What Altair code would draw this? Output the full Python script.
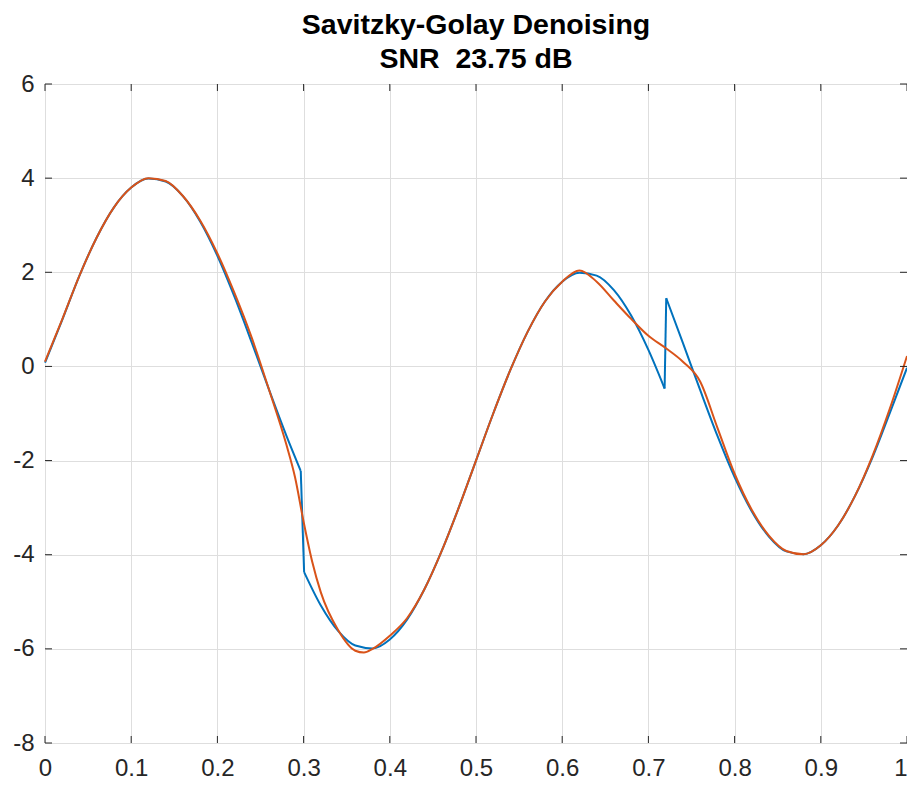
import altair as alt
import pandas as pd

# ---- text ----
title_lines = ["Savitzky-Golay Denoising", "SNR\u00a0 23.75 dB"]

# ---- axes ----
x_ticks = [0, 0.1, 0.2, 0.3, 0.4, 0.5, 0.6, 0.7, 0.8, 0.9, 1]
y_ticks = [-8, -6, -4, -2, 0, 2, 4, 6]

# ---- blue series (original signal) ----
blue_x = [0, 0.02, 0.04, 0.06, 0.08, 0.10, 0.12, 0.14, 0.16, 0.18, 0.20,
          0.22, 0.24, 0.26, 0.28, 0.2967, 0.3006, 0.32, 0.34, 0.36, 0.38,
          0.40, 0.42, 0.44, 0.46, 0.48, 0.50, 0.52, 0.54, 0.56, 0.58, 0.60,
          0.62, 0.64, 0.66, 0.68, 0.70, 0.7188, 0.7207, 0.74, 0.76, 0.78,
          0.80, 0.82, 0.84, 0.86, 0.88, 0.90, 0.92, 0.94, 0.96, 0.98, 1.00]
blue_y = [0.08, 0.99, 1.93, 2.74, 3.38, 3.80, 3.99, 3.93, 3.62, 3.08, 2.35,
          1.47, 0.50, -0.50, -1.47, -2.22, -4.37, -5.08, -5.62, -5.93, -5.99,
          -5.80, -5.38, -4.74, -3.93, -3.00, -2.00, -1.00, -0.07, 0.74, 1.38, 1.80,
          1.99, 1.93, 1.62, 1.08, 0.35, -0.47, 1.45, 0.50, -0.50, -1.47,
          -2.35, -3.08, -3.62, -3.93, -3.99, -3.80, -3.38, -2.74, -1.93, -0.99, -0.03]
# indices of the last sample before each jump of the blue signal
blue_jumps = [15, 37]

# ---- orange series (denoised) ----
orange_x = [0, 0.02, 0.04, 0.06, 0.08, 0.10, 0.12, 0.14, 0.16, 0.18, 0.20,
            0.22, 0.24, 0.26, 0.28, 0.29, 0.30, 0.31, 0.32, 0.34, 0.36, 0.37,
            0.38, 0.40, 0.42, 0.44, 0.46, 0.48, 0.50, 0.52, 0.54, 0.56, 0.58,
            0.60, 0.62, 0.64, 0.66, 0.68, 0.70, 0.72, 0.74, 0.76, 0.78, 0.80,
            0.82, 0.84, 0.86, 0.88, 0.90, 0.92, 0.94, 0.96, 0.98, 1.00]
orange_y = [0.10, 1.00, 1.93, 2.74, 3.38, 3.80, 4.00, 3.94, 3.62, 3.10, 2.40,
            1.55, 0.60, -0.50, -1.66, -2.35, -3.30, -4.15, -4.80, -5.60, -6.04, -6.08,
            -6.00, -5.72, -5.35, -4.74, -3.93, -3.00, -2.00, -1.00, -0.07, 0.74, 1.38,
            1.80, 2.04, 1.80, 1.40, 1.01, 0.65, 0.39, 0.10, -0.32, -1.30, -2.28,
            -3.05, -3.60, -3.92, -3.99, -3.80, -3.38, -2.74, -1.90, -0.90, 0.22]

W, H = 862, 659
FRAME = "#262626"
FONT = "Liberation Sans"

xscale = alt.Scale(domain=[0, 1], nice=False, zero=False)
yscale = alt.Scale(domain=[-8, 6], nice=False, zero=False)

xaxis = alt.Axis(values=x_ticks, title=None, domain=False, ticks=False, tickSize=0,
                 grid=True, gridColor="#dedede", gridWidth=1,
                 labelFont=FONT, labelFontSize=24, labelColor=FRAME,
                 labelPadding=13, labelExpr="'' + datum.value", labelFlush=False,
                 labelAlign={"condition": {"test": "datum.value == 1", "value": "right"},
                             "value": "center"})
yaxis = alt.Axis(values=y_ticks, title=None, domain=False, ticks=False, tickSize=0,
                 grid=True, gridColor="#dedede", gridWidth=1,
                 labelFont=FONT, labelFontSize=24, labelColor=FRAME,
                 labelPadding=11,
                 labelExpr="(datum.value < 0 ? '-' : '') + abs(datum.value)")

X = lambda f: alt.X(f, scale=xscale, axis=xaxis)
Y = lambda f: alt.Y(f, scale=yscale, axis=yaxis)

# smooth pieces of the blue signal, split at the jumps
rows = []
start = 0
for k, j in enumerate(blue_jumps + [len(blue_x) - 1]):
    for i in range(start, j + 1):
        rows.append({"t": blue_x[i], "v": blue_y[i], "seg": f"s{k}"})
    start = j + 1
blue_smooth = pd.DataFrame(rows)

# straight jump segments
jrows = []
for k, j in enumerate(blue_jumps):
    for i in (j, j + 1):
        jrows.append({"t": blue_x[i], "v": blue_y[i], "seg": f"j{k}"})
blue_jump_df = pd.DataFrame(jrows)

orange_df = pd.DataFrame({"t": orange_x, "v": orange_y})

blue = alt.Chart(blue_smooth).mark_line(color="#0072BD", strokeWidth=2,
                                        interpolate="monotone").encode(
    x=X("t:Q"), y=Y("v:Q"), detail="seg:N", order="t:Q")
blue_j = alt.Chart(blue_jump_df).mark_line(color="#0072BD", strokeWidth=2).encode(
    x=X("t:Q"), y=Y("v:Q"), detail="seg:N", order="t:Q")
orange = alt.Chart(orange_df).mark_line(color="#D95319", strokeWidth=2,
                                        interpolate="monotone").encode(
    x=X("t:Q"), y=Y("v:Q"), order="t:Q")

xt = pd.DataFrame({"t": x_ticks})
yt = pd.DataFrame({"v": y_ticks})
tick_len = 7
bottom_ticks = alt.Chart(xt).mark_rule(color=FRAME, strokeWidth=1).encode(
    x=X("t:Q"), y=alt.value(H), y2=alt.value(H - tick_len))
top_ticks = alt.Chart(xt).mark_rule(color=FRAME, strokeWidth=1).encode(
    x=X("t:Q"), y=alt.value(0), y2=alt.value(tick_len))
left_ticks = alt.Chart(yt).mark_rule(color=FRAME, strokeWidth=1).encode(
    y=Y("v:Q"), x=alt.value(0), x2=alt.value(tick_len))
right_ticks = alt.Chart(yt).mark_rule(color=FRAME, strokeWidth=1).encode(
    y=Y("v:Q"), x=alt.value(W), x2=alt.value(W - tick_len))

chart = alt.layer(blue, blue_j, orange, bottom_ticks, top_ticks, left_ticks,
                  right_ticks).properties(
    width=W, height=H,
    title=alt.Title(text=title_lines, font=FONT, fontSize=28.5, fontWeight="bold",
                    color="#000000", anchor="middle", baseline="alphabetic",
                    offset=-7, dy=17, lineHeight=34),
    autosize=alt.AutoSizeParams(type="none"),
    padding={"left": 37, "top": 76, "right": 0, "bottom": 37},
).configure_view(stroke=FRAME, strokeWidth=1.3).configure(background="white")

chart.save("out.html", embed_options={"renderer": "svg", "actions": False})
